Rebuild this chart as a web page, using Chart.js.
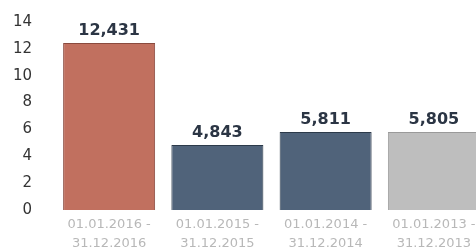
<!DOCTYPE html>
<html lang="de">
<head>
    <meta charset="UTF-8">
    <title>Periodenvergleich</title>
    <script src="https://cdn.jsdelivr.net/npm/chart.js"></script>
    <style>
        html, body { margin: 0; padding: 0; background: #fff; overflow: hidden; }
        #wrap { width: 488px; height: 251px; }
    </style>
</head>
<body>
    <div id="wrap">
        <canvas id="periodChart" width="488" height="251"></canvas>
    </div>

    <script>
        // Daten aus dem Diagramm
        const periods = [
            ['01.01.2016 -', '31.12.2016'],
            ['01.01.2015 -', '31.12.2015'],
            ['01.01.2014 -', '31.12.2014'],
            ['01.01.2013 -', '31.12.2013']
        ];
        const values = [12.431, 4.843, 5.811, 5.805];
        const valueLabels = ['12,431', '4,843', '5,811', '5,805'];
        const yTicks = [0, 2, 4, 6, 8, 10, 12, 14];

        const barColors = ['#c1705f', '#50637a', '#50637a', '#bebebe'];
        const borderColors = ['#8a4a3e', '#2c3a4a', '#2c3a4a', '#9a9a9a'];

        // Werte über den Balken schreiben
        const valueLabelPlugin = {
            id: 'valueLabels',
            afterDatasetsDraw(chart) {
                const ctx = chart.ctx;
                const meta = chart.getDatasetMeta(0);
                ctx.save();
                ctx.font = 'bold 16px "DejaVu Sans", sans-serif';
                ctx.fillStyle = '#2b3544';
                ctx.textAlign = 'center';
                ctx.textBaseline = 'bottom';
                meta.data.forEach((bar, i) => {
                    ctx.fillText(valueLabels[i], bar.x, bar.y - 4);
                });
                ctx.restore();
            }
        };

        new Chart(document.getElementById('periodChart'), {
            type: 'bar',
            data: {
                labels: periods,
                datasets: [{
                    data: values,
                    backgroundColor: barColors,
                    borderColor: borderColors,
                    borderWidth: 1,
                    categoryPercentage: 1,
                    barPercentage: 0.85
                }]
            },
            options: {
                responsive: false,
                animation: false,
                layout: { padding: { top: 22, right: 0, left: 0, bottom: 0 } },
                plugins: {
                    legend: { display: false },
                    tooltip: { enabled: false }
                },
                scales: {
                    x: {
                        grid: { display: false, drawTicks: false },
                        border: { display: false },
                        ticks: {
                            color: '#b8b8b8',
                            font: { family: '"DejaVu Sans", sans-serif', size: 13, lineHeight: 1.4 },
                            padding: 6,
                            maxRotation: 0,
                            autoSkip: false
                        },
                        afterFit(scale) { scale.height = 41; }
                    },
                    y: {
                        min: 0,
                        max: 14,
                        grid: { display: false, drawTicks: false },
                        border: { display: false },
                        afterBuildTicks(scale) {
                            scale.ticks = yTicks.map(v => ({ value: v }));
                        },
                        ticks: {
                            color: '#333',
                            font: { family: '"DejaVu Sans", sans-serif', size: 15 },
                            padding: 23
                        },
                        afterFit(scale) {
                            scale.width = 55;
                            // Abstand der Beschriftung nicht als Rand oben übernehmen
                            scale.paddingTop = 8;
                            scale.paddingBottom = 8;
                        }
                    }
                }
            },
            plugins: [valueLabelPlugin]
        });
    </script>
</body>
</html>
